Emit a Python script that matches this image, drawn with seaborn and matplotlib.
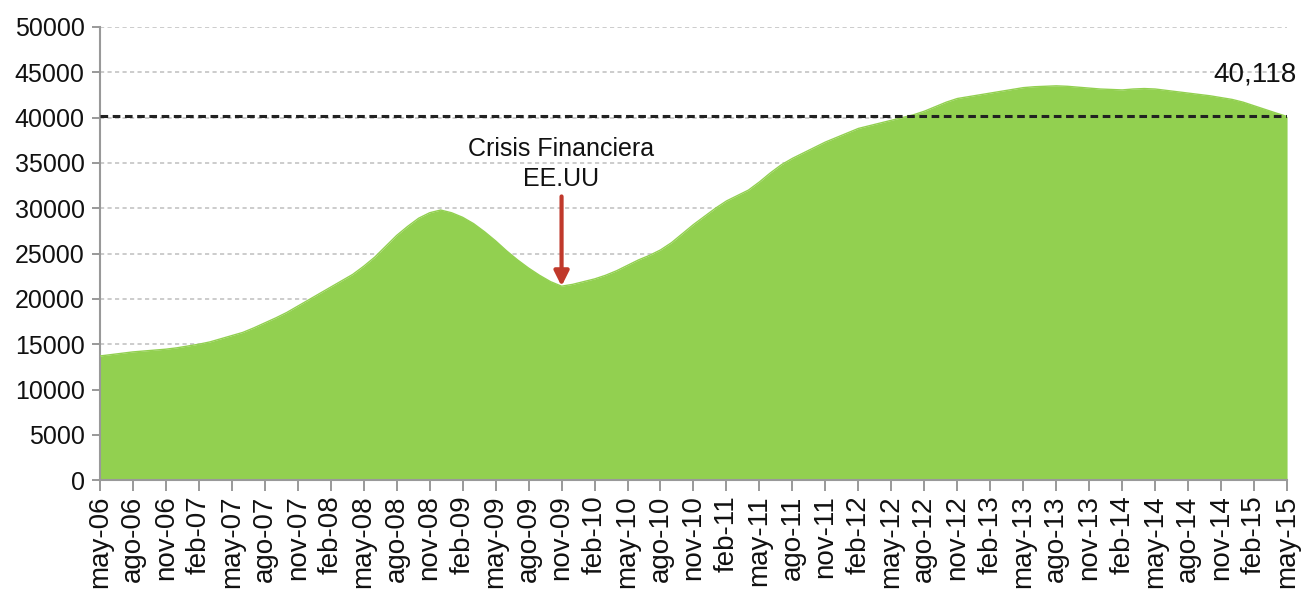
import numpy as np
import pandas as pd
import matplotlib
matplotlib.use("Agg")
import matplotlib.pyplot as plt
import seaborn as sns

# Monthly values, may-06 .. may-15
values_2006 = [13700, 13850, 14000, 14150, 14250, 14350, 14450, 14600]
values_2007 = [14800, 15000, 15250, 15600, 15950, 16300, 16800, 17350, 17900, 18500, 19200, 19900]
values_2008 = [20600, 21300, 22000, 22700, 23600, 24600, 25800, 27000, 28000, 28900, 29500, 29800]
values_2009 = [29500, 29000, 28300, 27400, 26400, 25300, 24300, 23400, 22600, 21900, 21400, 21600]
values_2010 = [21900, 22200, 22600, 23100, 23700, 24300, 24800, 25400, 26200, 27200, 28200, 29100]
values_2011 = [30000, 30800, 31400, 32000, 32900, 33900, 34800, 35500, 36100, 36700, 37300, 37800]
values_2012 = [38300, 38800, 39100, 39400, 39700, 40000, 40300, 40700, 41200, 41700, 42100, 42300]
values_2013 = [42500, 42700, 42900, 43100, 43300, 43400, 43450, 43500, 43450, 43350, 43250, 43150]
values_2014 = [43100, 43050, 43150, 43200, 43150, 43000, 42850, 42700, 42550, 42400, 42200, 42000]
values_2015 = [41700, 41300, 40900, 40500, 40118]

tick_labels = ["may-06", "ago-06", "nov-06", "feb-07", "may-07", "ago-07", "nov-07", "feb-08",
               "may-08", "ago-08", "nov-08", "feb-09", "may-09", "ago-09", "nov-09", "feb-10",
               "may-10", "ago-10", "nov-10", "feb-11", "may-11", "ago-11", "nov-11", "feb-12",
               "may-12", "ago-12", "nov-12", "feb-13", "may-13", "ago-13", "nov-13", "feb-14",
               "may-14", "ago-14", "nov-14", "feb-15", "may-15"]
reference_value = 40118
reference_label = "40,118"
crisis_label = "Crisis Financiera\nEE.UU"
crisis_month = "nov-09"

values = (values_2006 + values_2007 + values_2008 + values_2009 + values_2010 +
          values_2011 + values_2012 + values_2013 + values_2014 + values_2015)
df = pd.DataFrame({"t": np.arange(len(values)), "v": values})

sns.set_style("white")
plt.rcParams["font.family"] = ["Liberation Sans", "DejaVu Sans"]

fig = plt.figure(figsize=(13.14, 5.98), dpi=100)
ax = fig.add_axes([0.076, 0.197, 0.9035, 0.758])

green = "#92D050"
ax.fill_between(df["t"], 0, df["v"], color=green, linewidth=0, zorder=2)
sns.lineplot(data=df, x="t", y="v", ax=ax, color=green, linewidth=1, zorder=3)

# reference dashed line
ax.axhline(reference_value, color="#222222", linestyle=(0, (2.5, 1.5)), linewidth=2.2, zorder=4)

ax.set_xlim(0, len(values) - 1)
ax.set_ylim(0, 50000)
ax.set_yticks(np.arange(0, 50001, 5000))
ax.set_yticklabels([str(v) for v in range(0, 50001, 5000)])
xt = np.arange(0, len(values), 3)
ax.set_xticks(xt)
ax.set_xticklabels(tick_labels, rotation=90)

for y in range(5000, 50001, 5000):
    ax.axhline(y, color="#C4C4C4", linestyle=(0, (2.5, 2)), linewidth=1.2, zorder=1)

ax.tick_params(axis="x", labelsize=20, colors="#888888", labelcolor="#111111",
               length=8, width=1.2, direction="out", bottom=True, pad=3)
ax.tick_params(axis="y", labelsize=18, colors="#888888", labelcolor="#111111",
               length=6, width=1.2, direction="out", left=True, pad=5)
for s in ["top", "right"]:
    ax.spines[s].set_visible(False)
for s in ["left", "bottom"]:
    ax.spines[s].set_color("#999999")
    ax.spines[s].set_linewidth(1.5)
ax.set_xlabel("")
ax.set_ylabel("")

# crisis annotation
cx = tick_labels.index(crisis_month) * 3
ax.annotate("", xy=(cx, values[cx]), xytext=(cx, 31300),
            arrowprops=dict(arrowstyle="-|>", color="#C0392B", lw=3, mutation_scale=22,
                            shrinkA=0, shrinkB=0), zorder=5)
ax.text(cx, 31900, crisis_label, ha="center", va="bottom", fontsize=18,
        color="#111111", linespacing=1.3, zorder=5)

ax.text(len(values) - 1 + 0.9, 44700, reference_label, ha="right", va="center",
        fontsize=20, color="#111111", zorder=5, clip_on=False)

fig.savefig("out.png", dpi=100)
